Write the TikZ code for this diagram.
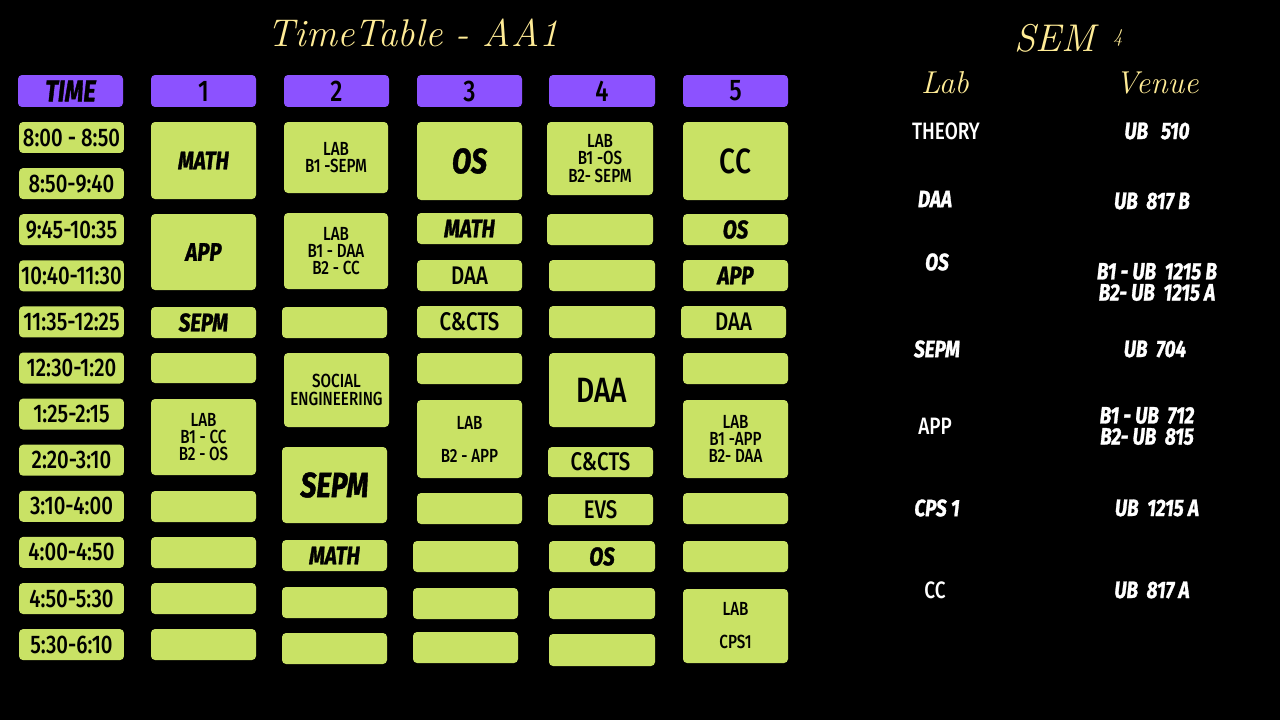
\documentclass[tikz,border=0pt]{standalone}
\usepackage{fontspec}
\usepackage{tikz}
\newfontfamily\cnd{Fira Sans Medium}[FakeStretch=0.8]
\newfontfamily\hvyfam{Fira Sans}[FakeStretch=0.8, BoldItalicFeatures={FakeBold=1.2}]
\newcommand\hvy{\hvyfam\bfseries\itshape}
\definecolor{tt-lime}{RGB}{201, 226, 101}
\definecolor{tt-violet}{RGB}{140, 82, 255}
\definecolor{tt-neon}{RGB}{255, 236, 150}

\begin{document}
\begin{tikzpicture}[x=0.02cm, y=-0.02cm,
    slot/.style={fill=tt-lime, rounded corners=2.3pt, inner sep=0pt, align=center, text=black},
    md/.style={font=\cnd\fontsize{14.5}{15}\selectfont},
    sm/.style={font=\cnd\fontsize{10.8}{9.8}\selectfont},
    lg/.style={font=\cnd\fontsize{20}{20}\selectfont},
    hd/.style={font=\cnd\fontsize{17}{17}\selectfont},
    neon/.style={text=tt-neon, font=\itshape\fontsize{22}{22}\selectfont},
    info/.style={text=white, align=center, inner sep=1pt, font=\cnd\fontsize{13.5}{12}\selectfont},
    infohv/.style={info, font=\hvy\fontsize{13.5}{12}\selectfont}]
  \fill[black] (0,0) rectangle (1280,720);

  \node[neon] (title) at (413,33) {TimeTable - AA1};
  \node[neon] (sem) at (1055,38) {SEM};
  \node[neon, font=\itshape\fontsize{11}{11}\selectfont] (semno) at (1118,38) {4};
  \node[neon, font=\itshape\fontsize{18}{18}\selectfont] (lab) at (945,83) {Lab};
  \node[neon, font=\itshape\fontsize{18}{18}\selectfont] (venue) at (1157,83) {Venue};

  \foreach \n/\xa/\xb/\t in {hT/18/123/{\hvy TIME}, h1/151/256/1, h2/284/389/2,
      h3/417/522/3, h4/549/655/4, h5/683/788/5}
    \node[slot, hd, fill=tt-violet, minimum width={(\xb-\xa)*0.02cm}, minimum height=0.64cm] (\n) at ({(\xa+\xb)/2}, 91) {\t};

  \foreach \t [count=\i from 0] in {8:00 - 8:50, 8:50-9:40, 9:45-10:35, 10:40-11:30,
      11:35-12:25, 12:30-1:20, 1:25-2:15, 2:20-3:10, 3:10-4:00, 4:00-4:50, 4:50-5:30, 5:30-6:10}
    \node[slot, md, minimum width=2.1cm, minimum height=0.62cm] (t\i) at (71.5, {137.5+46.1*\i}) {\t};

  \foreach \n/\xa/\ya/\xb/\yb/\s/\t in {
      a1/151/122/256/199/md/{\hvy MATH}, a2/151/214/256/290/md/{\hvy APP},
      a3/151/307/256/338/md/{\hvy SEPM}, a4/151/353/256/383/md/{},
      a5/151/399/256/475/sm/{LAB\\B1 - CC\\B2 - OS}, a6/151/491/256/522/md/{},
      a7/151/537/256/568/md/{}, a8/151/583/256/614/md/{}, a9/151/629/256/660/md/{},
      b1/284/122/388/193/sm/{LAB\\B1 -SEPM}, b2/284/213/388/289/sm/{LAB\\B1 - DAA\\B2 - CC},
      b3/282/307/387/338/md/{}, b4/284/353/389/427/sm/{SOCIAL\\ENGINEERING},
      b5/282/447/387/523/lg/{\hvy SEPM}, b6/282/540/387/571/md/{\hvy MATH},
      b7/282/587/387/618/md/{}, b8/282/633/387/664/md/{},
      c1/417/122/522/200/lg/{\hvy OS}, c2/417/213/522/244/md/{\hvy MATH},
      c3/417/260/522/291/md/DAA, c4/417/306/522/338/md/{C\&CTS},
      c5/417/353/522/384/md/{}, c6/417/400/522/478/sm/{LAB\\[9pt]B2 - APP},
      c7/417/493/522/524/md/{}, c8/413/541/518/572/md/{},
      c9/413/588/518/619/md/{}, c10/413/632/518/663/md/{},
      d1/547/122/653/195/sm/{LAB\\B1 -OS\\B2- SEPM}, d2/547/214/653/245/md/{},
      d3/549/260/655/291/md/{}, d4/549/306/655/338/md/{},
      d5/549/353/655/427/lg/DAA, d6/548/447/653/477/md/{C\&CTS},
      d7/548/494/653/525/md/EVS, d8/549/541/655/572/md/{\hvy OS},
      d9/549/588/655/619/md/{}, d10/549/634/655/666/md/{},
      e1/683/122/788/200/lg/CC, e2/683/214/788/245/md/{\hvy OS},
      e3/683/260/788/291/md/{\hvy APP}, e4/681/306/786/338/md/DAA,
      e5/683/353/788/384/md/{}, e6/683/400/788/478/sm/{LAB\\B1 -APP\\B2- DAA},
      e7/683/493/788/524/md/{}, e8/683/541/788/572/md/{},
      e9/683/589/788/663/sm/{LAB\\[9pt]CPS1}}
    \node[slot, \s, minimum width={(\xb-\xa)*0.02cm}, minimum height={(\yb-\ya)*0.02cm}] (\n) at ({(\xa+\xb)/2}, {(\ya+\yb)/2}) {\t};

  \foreach \n/\xa/\ya/\s/\a/\xb/\yb/\b in {
      theory/946/131/info/THEORY/1157/131/{UB\ \ \ 510},
      daa/935/199/infohv/DAA/1152/201/{UB\ \ 817 B},
      os/937/262/infohv/OS/1157/282/{B1 - UB\ \ 1215 B\\B2- UB\ \ 1215 A},
      sepm/937/349/infohv/SEPM/1155/349/{UB\ \ 704},
      app/935/426/info/APP/1147/426/{B1 - UB\ \ 712\\B2- UB\ \ 815},
      cps/937/508/infohv/{CPS 1}/1157/508/{UB\ \ 1215 A},
      cc/935/590/info/CC/1152/590/{UB\ \ 817 A}}
  {
    \node[\s] (\n) at (\xa,\ya) {\a};
    \node[infohv] (\n-v) at (\xb,\yb) {\b};
  }
\end{tikzpicture}
\end{document}
